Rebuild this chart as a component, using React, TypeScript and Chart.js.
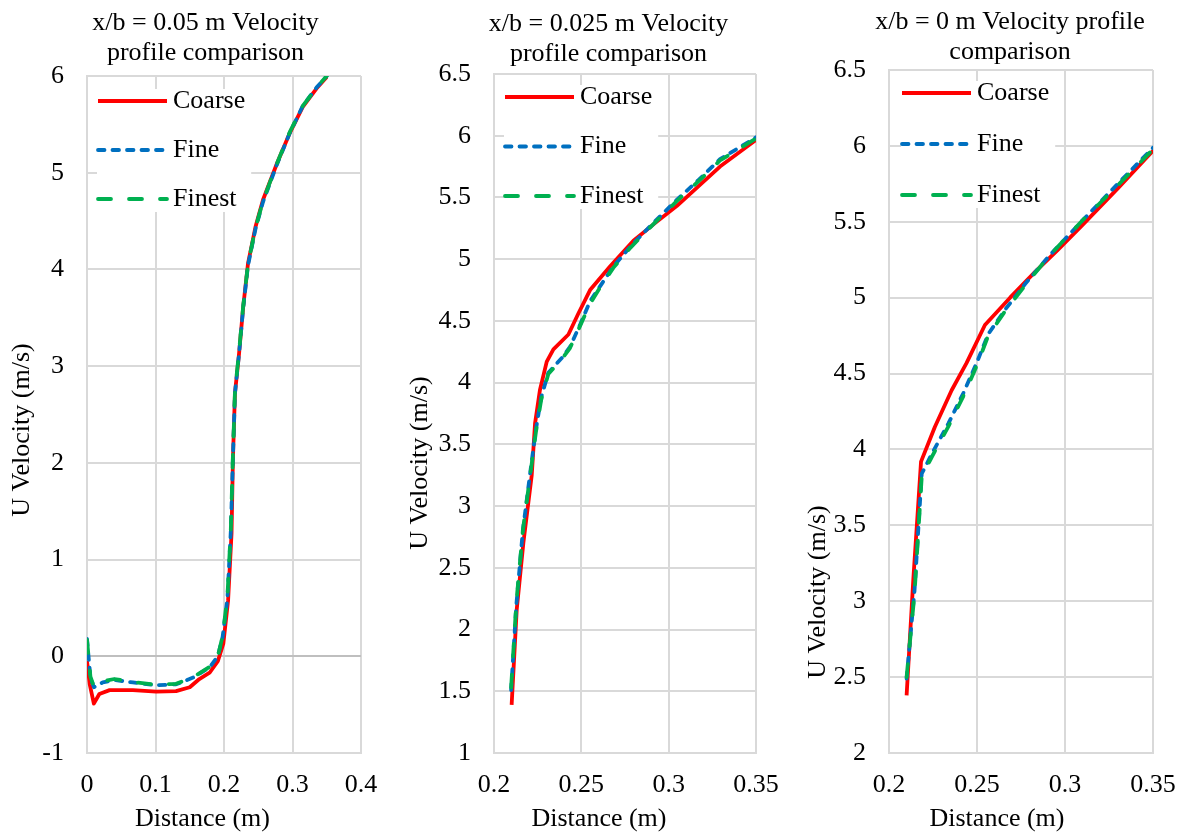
import React, { useEffect, useRef } from 'react';
import { Chart, registerables } from 'chart.js';

Chart.register(...registerables);

const FONT = '"Liberation Serif", "Times New Roman", Times, serif';

// ---------- shared series info ----------
const seriesNames = ['Coarse', 'Fine', 'Finest'];
const seriesColors = ['#FF0000', '#0070C0', '#00B050'];

// ---------- Panel 1: x/b = 0.05 m ----------
const p1Title = ['x/b = 0.05 m Velocity', 'profile comparison'];
const p1XTicks = [0, 0.1, 0.2, 0.3, 0.4];
const p1YTicks = [-1, 0, 1, 2, 3, 4, 5, 6];
const p1CoarseX = [0, 0.004, 0.010, 0.018, 0.033, 0.067, 0.101, 0.130, 0.150, 0.164, 0.179, 0.191, 0.199, 0.206, 0.211, 0.213, 0.216, 0.222, 0.228, 0.235, 0.246, 0.257, 0.277, 0.296, 0.315, 0.335, 0.350];
const p1CoarseY = [-0.05, -0.29, -0.49, -0.39, -0.35, -0.35, -0.365, -0.36, -0.32, -0.235, -0.17, -0.05, 0.13, 0.58, 1.27, 2.03, 2.72, 3.13, 3.61, 4.06, 4.44, 4.72, 5.09, 5.41, 5.68, 5.87, 5.99];
const p1FineX = [0, 0.005, 0.010, 0.023, 0.040, 0.067, 0.101, 0.130, 0.155, 0.179, 0.191, 0.198, 0.205, 0.210, 0.213, 0.216, 0.222, 0.228, 0.235, 0.246, 0.257, 0.277, 0.296, 0.315, 0.335, 0.350];
const p1FineY = [0.18, -0.22, -0.32, -0.27, -0.245, -0.27, -0.30, -0.29, -0.22, -0.115, 0.0, 0.2, 0.6, 1.3, 2.05, 2.72, 3.13, 3.6, 4.04, 4.42, 4.7, 5.08, 5.41, 5.69, 5.88, 6.0];
const p1FinestX = [0, 0.005, 0.010, 0.023, 0.040, 0.067, 0.101, 0.130, 0.155, 0.179, 0.191, 0.198, 0.205, 0.210, 0.213, 0.216, 0.222, 0.228, 0.235, 0.246, 0.257, 0.277, 0.296, 0.315, 0.335, 0.350];
const p1FinestY = [0.17, -0.21, -0.31, -0.26, -0.235, -0.265, -0.295, -0.285, -0.215, -0.11, 0.0, 0.21, 0.62, 1.32, 2.07, 2.74, 3.15, 3.62, 4.05, 4.43, 4.71, 5.09, 5.42, 5.69, 5.88, 6.0];

// ---------- Panel 2: x/b = 0.025 m ----------
const p2Title = ['x/b = 0.025 m Velocity', 'profile comparison'];
const p2XTicks = [0.2, 0.25, 0.3, 0.35];
const p2YTicks = [1, 1.5, 2, 2.5, 3, 3.5, 4, 4.5, 5, 5.5, 6, 6.5];
const p2CoarseX = [0.2101, 0.2130, 0.2168, 0.2216, 0.2235, 0.2263, 0.2302, 0.2340, 0.2426, 0.2483, 0.2550, 0.2664, 0.2798, 0.2920, 0.3046, 0.3170, 0.3294, 0.3504];
const p2CoarseY = [1.39, 2.16, 2.70, 3.25, 3.67, 3.94, 4.17, 4.27, 4.39, 4.56, 4.75, 4.94, 5.15, 5.29, 5.43, 5.59, 5.75, 5.97];
const p2FineX = [0.2098, 0.2128, 0.2165, 0.2210, 0.2240, 0.2270, 0.2311, 0.2388, 0.2435, 0.2493, 0.2550, 0.2607, 0.2683, 0.2779, 0.2910, 0.3046, 0.3170, 0.3294, 0.3504];
const p2FineY = [1.51, 2.20, 2.80, 3.30, 3.62, 3.88, 4.08, 4.20, 4.29, 4.47, 4.66, 4.78, 4.94, 5.10, 5.29, 5.48, 5.64, 5.81, 5.99];
const p2FinestX = [0.2098, 0.2128, 0.2165, 0.2210, 0.2240, 0.2270, 0.2311, 0.2388, 0.2435, 0.2493, 0.2550, 0.2607, 0.2683, 0.2779, 0.2910, 0.3046, 0.3170, 0.3294, 0.3504];
const p2FinestY = [1.53, 2.22, 2.80, 3.28, 3.60, 3.86, 4.07, 4.19, 4.28, 4.46, 4.64, 4.77, 4.93, 5.09, 5.28, 5.47, 5.63, 5.80, 5.98];

// ---------- Panel 3: x/b = 0 m ----------
const p3Title = ['x/b = 0 m Velocity profile', 'comparison'];
const p3XTicks = [0.2, 0.25, 0.3, 0.35];
const p3YTicks = [2, 2.5, 3, 3.5, 4, 4.5, 5, 5.5, 6, 6.5];
const p3CoarseX = [0.2100, 0.2138, 0.2182, 0.2261, 0.2356, 0.2441, 0.2545, 0.2688, 0.2830, 0.2955, 0.3100, 0.3300, 0.3502];
const p3CoarseY = [2.38, 3.14, 3.92, 4.15, 4.39, 4.57, 4.82, 5.00, 5.17, 5.31, 5.48, 5.72, 5.97];
const p3FineX = [0.2100, 0.2145, 0.2186, 0.2243, 0.2337, 0.2422, 0.2498, 0.2564, 0.2659, 0.2773, 0.2906, 0.3100, 0.3300, 0.3502];
const p3FineY = [2.49, 3.07, 3.84, 3.97, 4.17, 4.37, 4.57, 4.76, 4.92, 5.09, 5.27, 5.51, 5.75, 5.99];
const p3FinestX = [0.2100, 0.2145, 0.2186, 0.2243, 0.2337, 0.2422, 0.2498, 0.2564, 0.2659, 0.2773, 0.2906, 0.3100, 0.3300, 0.3502];
const p3FinestY = [2.50, 3.05, 3.82, 3.95, 4.15, 4.35, 4.55, 4.75, 4.91, 5.08, 5.27, 5.51, 5.74, 5.98];

const xAxisTitle = 'Distance (m)';
const yAxisTitle = 'U Velocity (m/s)';

// ---------- styling ----------
const lineDashes: number[][] = [[], [6.5, 8], [13, 18]];
const capStyles = ['butt', 'round', 'round'];
const GRID = '#d9d9d9';

const insideLegend = {
  id: 'insideLegend',
  beforeDatasetsDraw(chart: any, _args: any, opts: any) {
    const { ctx, chartArea } = chart;
    const x0 = chartArea.left + opts.dx;
    const y0 = chartArea.top + opts.dy;
    const items = chart.data.datasets;
    ctx.save();
    ctx.font = `26px ${FONT}`;
    const textW = Math.max(...items.map((d: any) => ctx.measureText(d.label).width));
    ctx.fillStyle = '#ffffff';
    ctx.fillRect(x0, y0 - 12, 76 + textW + 6, (items.length - 1) * opts.gap + 25);
    items.forEach((d: any, i: number) => {
      const y = y0 + i * opts.gap;
      ctx.beginPath();
      ctx.strokeStyle = d.borderColor;
      ctx.lineWidth = d.borderWidth;
      ctx.lineCap = d.borderCapStyle;
      ctx.setLineDash(d.borderDash || []);
      ctx.moveTo(x0 + 1, y);
      ctx.lineTo(x0 + 70, y);
      ctx.stroke();
      ctx.setLineDash([]);
      ctx.fillStyle = '#000000';
      ctx.textBaseline = 'middle';
      ctx.textAlign = 'left';
      ctx.fillText(d.label, x0 + 76, y);
    });
    ctx.restore();
  },
};

// axis titles placed like the original (centred on the whole chart box, not on the plot)
const axisTitles = {
  id: 'axisTitles',
  afterDraw(chart: any, _args: any, opts: any) {
    const { ctx } = chart;
    ctx.save();
    ctx.font = `26px ${FONT}`;
    ctx.fillStyle = '#000000';
    ctx.textAlign = 'center';
    ctx.textBaseline = 'middle';
    ctx.fillText(opts.xText, opts.xTitleX, opts.xTitleY);
    ctx.translate(opts.yTitleX, opts.yTitleY);
    ctx.rotate(-Math.PI / 2);
    ctx.fillText(opts.yText, 0, 0);
    ctx.restore();
  },
};

type PanelCfg = {
  left: number;
  width: number;
  title: string[];
  titleTop: number;
  titleBottom: number;
  yWidth: number;
  rightInset: number;
  xMin: number;
  xMax: number;
  yMin: number;
  yMax: number;
  xTicks: number[];
  yTicks: number[];
  series: { x: number[]; y: number[] }[];
  zeroLine: boolean;
  legendDx: number;
  legendDy: number;
  legendGap: number;
  xTitleX: number;
  yTitleY: number;
};

const panels: PanelCfg[] = [
  {
    left: 0, width: 411, title: p1Title, titleTop: 8, titleBottom: 8,
    yWidth: 87, rightInset: 50, xMin: 0, xMax: 0.4, yMin: -1, yMax: 6,
    xTicks: p1XTicks, yTicks: p1YTicks,
    series: [{ x: p1CoarseX, y: p1CoarseY }, { x: p1FineX, y: p1FineY }, { x: p1FinestX, y: p1FinestY }],
    zeroLine: true, legendDx: 10, legendDy: 25, legendGap: 49,
    xTitleX: 202.5, yTitleY: 430,
  },
  {
    left: 398, width: 421, title: p2Title, titleTop: 9, titleBottom: 5,
    yWidth: 96, rightInset: 63, xMin: 0.2, xMax: 0.35, yMin: 1, yMax: 6.5,
    xTicks: p2XTicks, yTicks: p2YTicks,
    series: [{ x: p2CoarseX, y: p2CoarseY }, { x: p2FineX, y: p2FineY }, { x: p2FinestX, y: p2FinestY }],
    zeroLine: false, legendDx: 10, legendDy: 23, legendGap: 49.5,
    xTitleX: 599, yTitleY: 463,
  },
  {
    left: 796, width: 428, title: p3Title, titleTop: 7, titleBottom: 3,
    yWidth: 93, rightInset: 71, xMin: 0.2, xMax: 0.35, yMin: 2, yMax: 6.5,
    xTicks: p3XTicks, yTicks: p3YTicks,
    series: [{ x: p3CoarseX, y: p3CoarseY }, { x: p3FineX, y: p3FineY }, { x: p3FinestX, y: p3FinestY }],
    zeroLine: false, legendDx: 12, legendDy: 23, legendGap: 51,
    xTitleX: 997, yTitleY: 592,
  },
];

function Panel({ cfg }: { cfg: PanelCfg }) {
  const ref = useRef<HTMLCanvasElement | null>(null);
  useEffect(() => {
    if (!ref.current) return;
    const tickFont = { family: FONT, size: 26, weight: 'normal' as const };
    const chart = new Chart(ref.current, {
      type: 'line',
      data: {
        datasets: cfg.series.map((s, i) => ({
          label: seriesNames[i],
          data: s.x.map((x, k) => ({ x, y: s.y[k] })),
          borderColor: seriesColors[i],
          backgroundColor: seriesColors[i],
          borderWidth: 3.8,
          borderDash: lineDashes[i],
          borderCapStyle: capStyles[i] as any,
          borderJoinStyle: 'round' as any,
          pointRadius: 0,
          pointHoverRadius: 0,
          tension: 0,
          fill: false,
          order: 3 - i,
        })),
      },
      options: {
        animation: false,
        responsive: false,
        events: [],
        layout: { padding: 0 },
        plugins: {
          legend: { display: false },
          tooltip: { enabled: false },
          title: {
            display: true,
            text: cfg.title,
            color: '#000000',
            font: { family: FONT, size: 26, weight: 'normal', lineHeight: 30 / 26 },
            padding: { top: cfg.titleTop, bottom: cfg.titleBottom },
          },
          insideLegend: { dx: cfg.legendDx, dy: cfg.legendDy, gap: cfg.legendGap },
          axisTitles: {
            xText: xAxisTitle,
            yText: yAxisTitle,
            xTitleX: cfg.xTitleX - cfg.left,
            xTitleY: 819,
            yTitleX: 22,
            yTitleY: cfg.yTitleY,
          },
        } as any,
        scales: {
          x: {
            type: 'linear',
            min: cfg.xMin,
            max: cfg.xMax,
            afterBuildTicks: (s: any) => {
              s.ticks = cfg.xTicks.map((v) => ({ value: v }));
            },
            afterFit: (s: any) => {
              s.height = 81;
              s.paddingRight = cfg.rightInset;
            },
            ticks: {
              color: '#000000',
              font: tickFont,
              padding: 17,
              maxRotation: 0,
              autoSkip: false,
              callback: (v: any) => String(v),
            },
            grid: { color: GRID, lineWidth: 2, drawTicks: false },
            border: { color: GRID, width: 2 },
            title: { display: false, text: xAxisTitle },
          },
          y: {
            type: 'linear',
            min: cfg.yMin,
            max: cfg.yMax,
            afterBuildTicks: (s: any) => {
              s.ticks = cfg.yTicks.map((v) => ({ value: v }));
            },
            afterFit: (s: any) => {
              s.width = cfg.yWidth;
            },
            ticks: {
              color: '#000000',
              font: tickFont,
              padding: 23,
              autoSkip: false,
              callback: (v: any) => String(v),
            },
            grid: {
              color: (c: any) => (cfg.zeroLine && c.tick && c.tick.value === 0 ? '#bfbfbf' : GRID),
              lineWidth: 2,
              drawTicks: false,
            },
            border: { color: GRID, width: 2 },
            title: { display: false, text: yAxisTitle },
          },
        },
      },
      plugins: [insideLegend, axisTitles],
    });
    return () => chart.destroy();
  }, [cfg]);
  return (
    <canvas
      ref={ref}
      width={cfg.width}
      height={834}
      style={{ position: 'absolute', left: cfg.left, top: 0, width: cfg.width, height: 834 }}
    />
  );
}

export default function App() {
  return (
    <div
      style={{
        position: 'fixed',
        left: 0,
        top: 0,
        width: 1184,
        height: 834,
        overflow: 'hidden',
        background: '#ffffff',
      }}
    >
      {panels.map((p, i) => (
        <Panel key={i} cfg={p} />
      ))}
    </div>
  );
}
